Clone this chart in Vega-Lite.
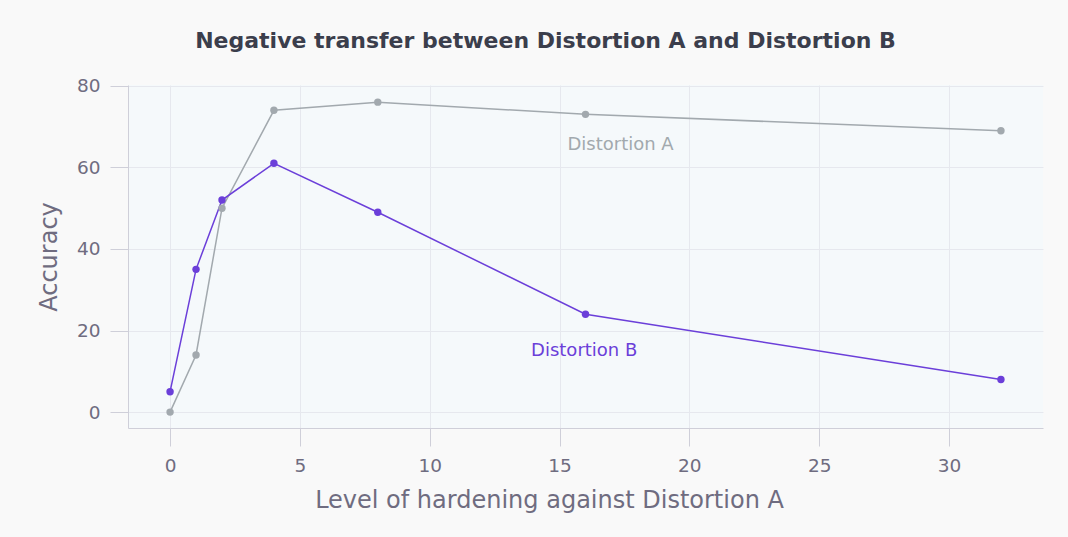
{
  "$schema": "https://vega.github.io/schema/vega-lite/v6.json",
  "width": 915,
  "height": 343,
  "autosize": {"type": "none"},
  "padding": {"left": 128, "top": 85, "right": 25, "bottom": 109},
  "background": "#f9f9f9",
  "title": {
    "text": "Negative transfer between Distortion A and Distortion B",
    "font": "DejaVu Sans",
    "fontSize": 22,
    "fontWeight": "bold",
    "color": "#3b3e4c",
    "anchor": "middle",
    "frame": "group",
    "dx": -40,
    "offset": 24
  },
  "config": {
    "view": {"stroke": null, "fill": "#f5f9fb"},
    "font": "DejaVu Sans",
    "axis": {
      "domainColor": "#cfcfd9",
      "tickColor": "#cfcfd9",
      "tickSize": 18,
      "gridColor": "#e6e8ee",
      "labelColor": "#6f6c80",
      "titleColor": "#6f6c80",
      "labelFontSize": 18.5,
      "titleFontSize": 24,
      "labelFont": "DejaVu Sans",
      "titleFont": "DejaVu Sans",
      "titleFontWeight": "normal",
      "labelPadding": 10
    }
  },
  "datasets": {
    "lines": [
      {"level": 0, "accuracy": 0, "series": "Distortion A"},
      {"level": 1, "accuracy": 14, "series": "Distortion A"},
      {"level": 2, "accuracy": 50, "series": "Distortion A"},
      {"level": 4, "accuracy": 74, "series": "Distortion A"},
      {"level": 8, "accuracy": 76, "series": "Distortion A"},
      {"level": 16, "accuracy": 73, "series": "Distortion A"},
      {"level": 32, "accuracy": 69, "series": "Distortion A"},
      {"level": 0, "accuracy": 5, "series": "Distortion B"},
      {"level": 1, "accuracy": 35, "series": "Distortion B"},
      {"level": 2, "accuracy": 52, "series": "Distortion B"},
      {"level": 4, "accuracy": 61, "series": "Distortion B"},
      {"level": 8, "accuracy": 49, "series": "Distortion B"},
      {"level": 16, "accuracy": 24, "series": "Distortion B"},
      {"level": 32, "accuracy": 8, "series": "Distortion B"}
    ],
    "labels": [
      {"level": 17.35, "accuracy": 65.5, "series": "Distortion A"},
      {"level": 15.95, "accuracy": 15, "series": "Distortion B"}
    ]
  },
  "layer": [
    {
      "data": {"name": "lines"},
      "mark": {"type": "line", "strokeWidth": 1.5, "point": {"size": 55, "filled": true, "opacity": 1}},
      "encoding": {
        "x": {
          "field": "level", "type": "quantitative",
          "title": "Level of hardening against Distortion A",
          "scale": {"domain": [-1.62, 33.62], "nice": false, "zero": false},
          "axis": {"values": [0, 5, 10, 15, 20, 25, 30], "titlePadding": 14, "titleX": 421}
        },
        "y": {
          "field": "accuracy", "type": "quantitative",
          "title": "Accuracy",
          "scale": {"domain": [-3.9, 80.2], "nice": false, "zero": false},
          "axis": {"values": [0, 20, 40, 60, 80], "titlePadding": 15}
        },
        "color": {
          "field": "series", "type": "nominal",
          "scale": {"domain": ["Distortion A", "Distortion B"], "range": ["#a2a9ae", "#6b3fd9"]},
          "legend": null
        },
        "order": {"field": "level"}
      }
    },
    {
      "data": {"name": "labels"},
      "mark": {"type": "text", "fontSize": 18, "font": "DejaVu Sans", "align": "center", "baseline": "middle"},
      "encoding": {
        "x": {"field": "level", "type": "quantitative"},
        "y": {"field": "accuracy", "type": "quantitative"},
        "text": {"field": "series"},
        "color": {"field": "series", "type": "nominal", "legend": null}
      }
    }
  ]
}
